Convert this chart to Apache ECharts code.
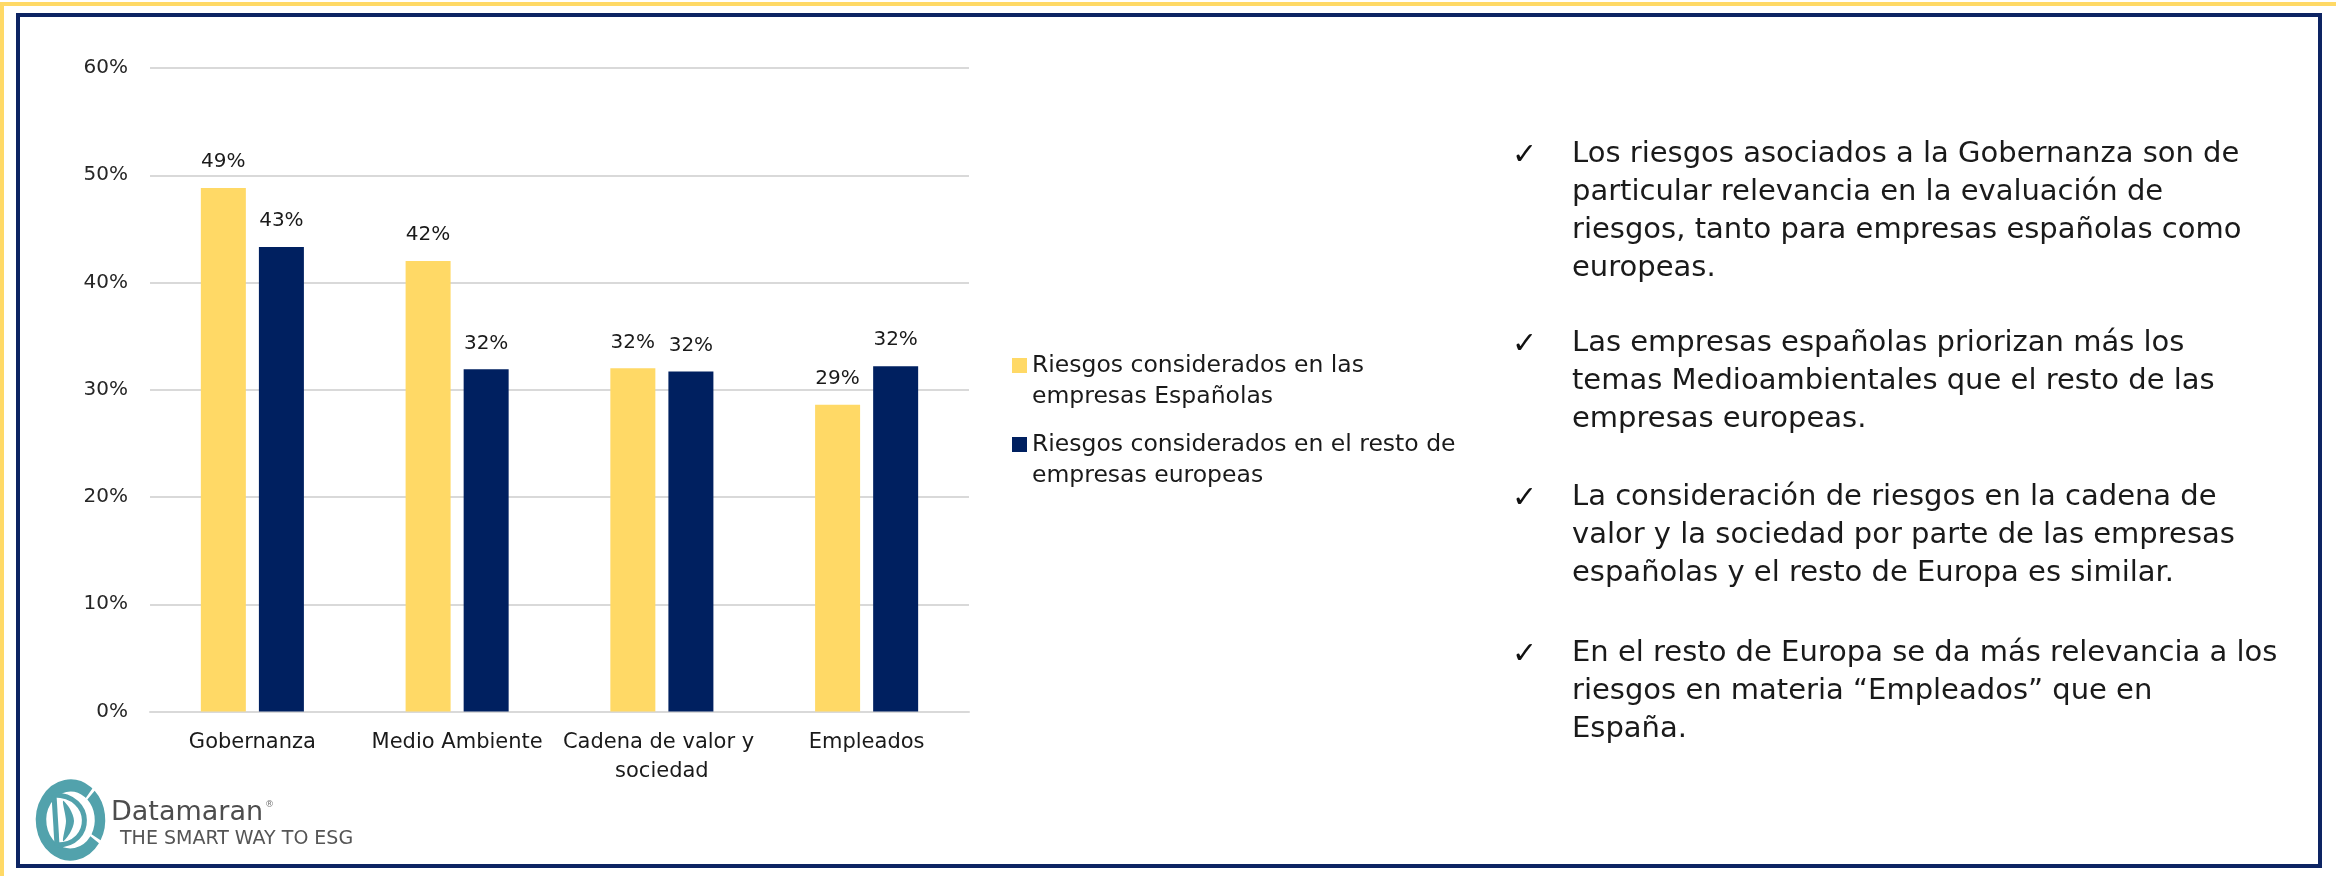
<!DOCTYPE html>
<html>
<head>
<meta charset="utf-8">
<script src="https://cdn.jsdelivr.net/npm/echarts@6/dist/echarts.min.js"></script>
<style>
html,body{margin:0;padding:0;background:#fff;}
#chart{width:2336px;height:876px;}
</style>
</head>
<body>
<div id="chart"></div>
<script>
// ---- data ----
const categories = ['Gobernanza', 'Medio Ambiente', 'Cadena de valor y sociedad', 'Empleados'];
const seriesNames = ['Riesgos considerados en las empresas Españolas', 'Riesgos considerados en el resto de empresas europeas'];
const legendLabels = ['Riesgos considerados en las\nempresas Españolas', 'Riesgos considerados en el resto de\nempresas europeas'];
const spainValues = [48.8, 42.0, 32.0, 28.6];
const europeValues = [43.3, 31.9, 31.7, 32.2];
const yTicks = [0, 10, 20, 30, 40, 50, 60];
const bullets = [
  ['Los riesgos asociados a la Gobernanza son de', 'particular relevancia en la evaluación de', 'riesgos, tanto para empresas españolas como', 'europeas.'],
  ['Las empresas españolas priorizan más los', 'temas Medioambientales que el resto de las', 'empresas europeas.'],
  ['La consideración de riesgos en la cadena de', 'valor y la sociedad por parte de las empresas', 'españolas y el resto de Europa es similar.'],
  ['En el resto de Europa se da más relevancia a los', 'riesgos en materia “Empleados” que en', 'España.']
];
const logoName = 'Datamaran';
const logoTagline = 'THE SMART WAY TO ESG';

// ---- chart ----
const FONT = 'DejaVu Sans';
const YELLOW = '#FFD966';
const NAVY = '#002060';
const TEAL = '#52a2ac';

const chart = echarts.init(document.getElementById('chart'), null, {renderer: 'canvas'});

const bulletStartY = [154, 343, 497, 653];
const lineH = 38;
const graphics = [];
// frame
graphics.push({type: 'rect', shape: {x: 0, y: 2, width: 2336, height: 4}, style: {fill: YELLOW}, silent: true});
graphics.push({type: 'rect', shape: {x: 0, y: 2, width: 4, height: 874}, style: {fill: YELLOW}, silent: true});
graphics.push({type: 'rect', shape: {x: 18, y: 15, width: 2302, height: 851}, style: {fill: 'none', stroke: '#0d2463', lineWidth: 4}, silent: true});

bullets.forEach((lines, bi) => {
  graphics.push({
    type: 'text', x: 1512, y: bulletStartY[bi] + 2,
    style: {text: '✓', font: '30px "' + FONT + '"', fill: '#111', verticalAlign: 'middle', align: 'left'},
    silent: true
  });
  lines.forEach((ln, li) => {
    graphics.push({
      type: 'text', x: 1572, y: bulletStartY[bi] + li * lineH,
      style: {text: ln, font: '29px "' + FONT + '"', fill: '#1a1a1a', verticalAlign: 'middle', align: 'left'},
      silent: true
    });
  });
});

// logo
const ringR = 29.5;
graphics.push({
  type: 'group', x: 70.5, y: 820, scaleY: 1.17, silent: true,
  children: [
    {type: 'arc', shape: {cx: 0, cy: 0, r: ringR, startAngle: -46 * Math.PI / 180, endAngle: 30 * Math.PI / 180}, style: {stroke: TEAL, lineWidth: 10.5, fill: 'none'}},
    {type: 'arc', shape: {cx: 0, cy: 0, r: ringR, startAngle: 35 * Math.PI / 180, endAngle: 309 * Math.PI / 180}, style: {stroke: TEAL, lineWidth: 10.5, fill: 'none'}}
  ]
});
graphics.push({type: 'line', silent: true, shape: {x1: 54, y1: 795, x2: 57, y2: 845}, style: {stroke: TEAL, lineWidth: 5}});
graphics.push({type: 'bezierCurve', silent: true, shape: {x1: 57, y1: 845, cpx1: 94, cpy1: 845, cpx2: 94, cpy2: 795, x2: 54, y2: 795}, style: {stroke: TEAL, lineWidth: 5, fill: 'none'}});
graphics.push({type: 'polygon', silent: true, shape: {points: [[63, 801], [70, 809], [74, 821], [70, 833], [63, 841], [66, 821]], smooth: 0.3}, style: {fill: TEAL}});
graphics.push({type: 'text', x: 111, y: 813, silent: true, style: {text: logoName, font: '27px "' + FONT + '"', fill: '#4d4d4d', verticalAlign: 'middle', align: 'left'}});
graphics.push({type: 'text', x: 265, y: 805, silent: true, style: {text: '®', font: '9px "' + FONT + '"', fill: '#777', verticalAlign: 'middle', align: 'left'}});
graphics.push({type: 'text', x: 120, y: 839, silent: true, style: {text: logoTagline, font: '19px "' + FONT + '"', fill: '#555', verticalAlign: 'middle', align: 'left'}});

const labelOpt = {
  show: true, position: 'top', distance: 16,
  fontFamily: FONT, fontSize: 20, color: '#1a1a1a',
  formatter: p => Math.round(p.value) + '%'
};

chart.setOption({
  animation: false,
  backgroundColor: '#fff',
  textStyle: {fontFamily: FONT},
  grid: {left: 150, width: 819, top: 68, bottom: 164.5, containLabel: false},
  legend: {
    orient: 'vertical', left: 1012, top: 350, padding: 0, itemGap: 17,
    itemWidth: 15, itemHeight: 46,
    icon: 'path://M0,0H15V15H0Z M0,45.99H0.01V46H0Z',
    selectedMode: false,
    data: seriesNames,
    formatter: name => legendLabels[seriesNames.indexOf(name)],
    textStyle: {fontFamily: FONT, fontSize: 23.5, lineHeight: 31, color: '#1a1a1a'}
  },
  xAxis: {
    type: 'category', data: categories,
    axisLine: {show: true, lineStyle: {color: '#d9d9d9', width: 2}},
    axisTick: {show: false},
    axisLabel: {fontFamily: FONT, fontSize: 21, color: '#1a1a1a', margin: 17, lineHeight: 29, width: 200, overflow: 'break', interval: 0}
  },
  yAxis: {
    type: 'value', min: yTicks[0], max: yTicks[yTicks.length - 1], interval: 10,
    axisLine: {show: false}, axisTick: {show: false},
    splitLine: {lineStyle: {color: '#d9d9d9', width: 2}},
    axisLabel: {fontFamily: FONT, fontSize: 20, color: '#262626', margin: 22, formatter: '{value}%'}
  },
  series: [
    {name: seriesNames[0], type: 'bar', data: spainValues, barWidth: 45, barGap: '29%', itemStyle: {color: YELLOW}, label: labelOpt},
    {name: seriesNames[1], type: 'bar', data: europeValues, barWidth: 45, barGap: '29%', itemStyle: {color: NAVY}, label: labelOpt}
  ],
  graphic: graphics
});
</script>
</body>
</html>
